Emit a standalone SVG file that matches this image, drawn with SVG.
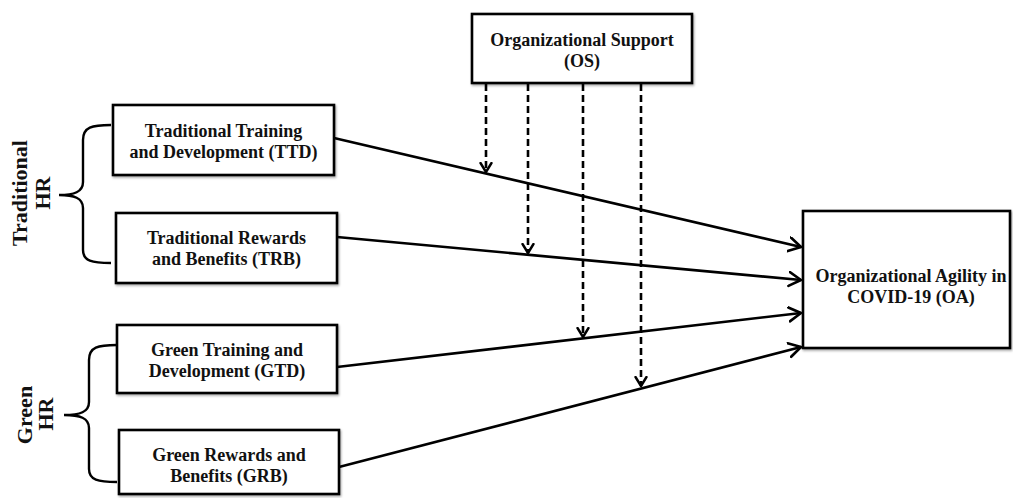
<svg xmlns="http://www.w3.org/2000/svg" width="1013" height="498" viewBox="0 0 1013 498">
<style>
.box{fill:#fff;stroke:#000;stroke-width:2.6;filter:url(#sh)}
.t{font-family:"Liberation Serif","Times New Roman",serif;font-weight:bold;font-size:18px;fill:#111;text-anchor:middle}
.side{font-family:"Liberation Serif","Times New Roman",serif;font-weight:bold;font-size:22px;fill:#111;text-anchor:middle}
.ln{stroke:#000;stroke-width:2.6;fill:none;marker-end:url(#ah)}
.dl{stroke:#000;stroke-width:2.6;fill:none;stroke-dasharray:7 4;marker-end:url(#dh)}
.br{stroke:#000;stroke-width:2.4;fill:none}
</style>
<defs>
<filter id="sh" x="-5%" y="-5%" width="110%" height="115%">
<feDropShadow dx="1" dy="1.5" stdDeviation="1.2" flood-color="#000" flood-opacity="0.35"/>
</filter>
<marker id="ah" markerUnits="userSpaceOnUse" markerWidth="20" markerHeight="20" refX="13" refY="8" orient="auto">
<path d="M1,1 L13,8 L1,15" fill="none" stroke="#000" stroke-width="2.6" stroke-linecap="round" stroke-linejoin="round"/>
</marker>
<marker id="dh" markerUnits="userSpaceOnUse" markerWidth="16" markerHeight="16" refX="10" refY="7" orient="auto">
<path d="M1,1.5 L10,7 L1,12.5" fill="none" stroke="#000" stroke-width="2.4" stroke-linecap="round" stroke-linejoin="round"/>
</marker>
</defs>
<rect width="1013" height="498" fill="#fff"/>

<g id="connectors">
<line class="ln" x1="334" y1="138" x2="801" y2="247"/>
<line class="ln" x1="337" y1="237" x2="801" y2="280"/>
<line class="ln" x1="337" y1="367" x2="801" y2="313"/>
<line class="ln" x1="339" y1="467" x2="801" y2="347"/>
<line class="dl" x1="486" y1="84" x2="486" y2="172"/>
<line class="dl" x1="528" y1="84" x2="528" y2="253"/>
<line class="dl" x1="583" y1="84" x2="583" y2="337"/>
<line class="dl" x1="641" y1="84" x2="641" y2="386"/>
</g>

<g id="bracket-traditional">
<path class="br" d="M111,125 C92,125 83,127 83,140 L83,182 C83,192 74,195 59,195 C74,195 83,198 83,208 L83,250 C83,261 92,263 111,263"/>
<text class="side" transform="rotate(-90 27 193)" x="27" y="193">Traditional</text>
<text class="side" transform="rotate(-90 50 193)" x="50" y="193">HR</text>
</g>

<g id="bracket-green">
<path class="br" d="M117,345 C98,345 89,347 89,360 L89,402 C89,412 80,415 64,415 C80,415 89,418 89,428 L89,469 C89,480 98,482 117,482"/>
<text class="side" transform="rotate(-90 32 415)" x="32" y="415">Green</text>
<text class="side" transform="rotate(-90 53 414)" x="53" y="414">HR</text>
</g>

<g id="OS">
<rect class="box" x="472" y="14" width="220" height="69"/>
<text class="t" x="582" y="46">Organizational Support</text>
<text class="t" x="582" y="67">(OS)</text>
</g>

<g id="TTD">
<rect class="box" x="113" y="105" width="221" height="70"/>
<text class="t" x="223.5" y="137">Traditional Training</text>
<text class="t" x="223.5" y="158">and Development (TTD)</text>
</g>

<g id="TRB">
<rect class="box" x="116" y="213" width="221" height="70"/>
<text class="t" x="226.5" y="244">Traditional Rewards</text>
<text class="t" x="226.5" y="265">and Benefits (TRB)</text>
</g>

<g id="GTD">
<rect class="box" x="117" y="325" width="220" height="68"/>
<text class="t" x="227" y="356">Green Training and</text>
<text class="t" x="227" y="377">Development (GTD)</text>
</g>

<g id="GRB">
<rect class="box" x="119" y="430" width="220" height="64"/>
<text class="t" x="229" y="461">Green Rewards and</text>
<text class="t" x="229" y="482">Benefits (GRB)</text>
</g>

<g id="OA">
<rect class="box" x="803" y="211" width="207" height="137"/>
<text class="t" x="911" y="282">Organizational Agility in</text>
<text class="t" x="911" y="303">COVID-19 (OA)</text>
</g>
</svg>
